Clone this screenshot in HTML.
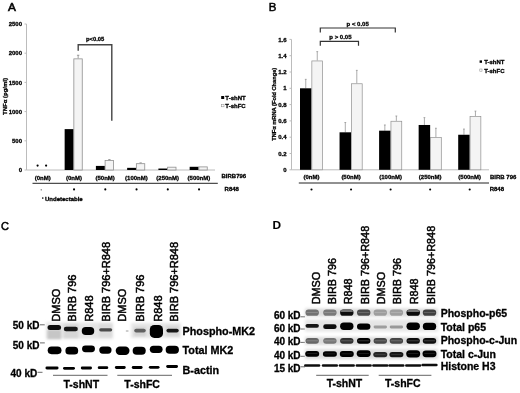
<!DOCTYPE html>
<html><head><meta charset="utf-8"><style>
html,body{margin:0;padding:0;background:#fff;}
body{width:520px;height:393px;overflow:hidden;}
svg{display:block;font-family:"Liberation Sans", sans-serif;transform:translateZ(0);}
</style></head><body>
<svg width="520" height="393" viewBox="0 0 520 393">
<defs><filter id="b5" x="-50%" y="-50%" width="200%" height="200%"><feGaussianBlur stdDeviation="0.5"/></filter><filter id="b6" x="-50%" y="-50%" width="200%" height="200%"><feGaussianBlur stdDeviation="0.6"/></filter><filter id="b7" x="-50%" y="-50%" width="200%" height="200%"><feGaussianBlur stdDeviation="0.7"/></filter><filter id="b8" x="-50%" y="-50%" width="200%" height="200%"><feGaussianBlur stdDeviation="0.8"/></filter><filter id="b9" x="-50%" y="-50%" width="200%" height="200%"><feGaussianBlur stdDeviation="0.9"/></filter><filter id="b10" x="-50%" y="-50%" width="200%" height="200%"><feGaussianBlur stdDeviation="1.0"/></filter><filter id="b15" x="-50%" y="-50%" width="200%" height="200%"><feGaussianBlur stdDeviation="1.5"/></filter><filter id="b20" x="-50%" y="-50%" width="200%" height="200%"><feGaussianBlur stdDeviation="2.0"/></filter></defs>
<g id="A">
<text x="7.9" y="10.7" font-size="11.8" font-weight="normal" text-anchor="start" stroke="#000" stroke-width="0.6">A</text>
<line x1="26.5" y1="24" x2="26.5" y2="170.0" stroke="#bcbcbc" stroke-width="1"/>
<line x1="24.5" y1="170.0" x2="26.5" y2="170.0" stroke="#bcbcbc" stroke-width="1"/>
<text x="22" y="172.1" font-size="6" font-weight="bold" text-anchor="end"  stroke="#000" stroke-width="0.3">0</text>
<line x1="24.5" y1="140.8" x2="26.5" y2="140.8" stroke="#bcbcbc" stroke-width="1"/>
<text x="22" y="142.9" font-size="6" font-weight="bold" text-anchor="end"  stroke="#000" stroke-width="0.3">500</text>
<line x1="24.5" y1="111.6" x2="26.5" y2="111.6" stroke="#bcbcbc" stroke-width="1"/>
<text x="22" y="113.69999999999999" font-size="6" font-weight="bold" text-anchor="end"  stroke="#000" stroke-width="0.3">1000</text>
<line x1="24.5" y1="82.4" x2="26.5" y2="82.4" stroke="#bcbcbc" stroke-width="1"/>
<text x="22" y="84.5" font-size="6" font-weight="bold" text-anchor="end"  stroke="#000" stroke-width="0.3">1500</text>
<line x1="24.5" y1="53.2" x2="26.5" y2="53.2" stroke="#bcbcbc" stroke-width="1"/>
<text x="22" y="55.300000000000004" font-size="6" font-weight="bold" text-anchor="end"  stroke="#000" stroke-width="0.3">2000</text>
<line x1="24.5" y1="24.0" x2="26.5" y2="24.0" stroke="#bcbcbc" stroke-width="1"/>
<text x="22" y="26.1" font-size="6" font-weight="bold" text-anchor="end"  stroke="#000" stroke-width="0.3">2500</text>
<line x1="26.5" y1="170.0" x2="215" y2="170.0" stroke="#bcbcbc" stroke-width="1"/>
<text transform="translate(7.2,96.5) rotate(-90)" font-size="6" font-weight="bold" text-anchor="middle" stroke="#000" stroke-width="0.3">TNFα (pg/ml)</text>
<text x="42.699999999999996" y="179.6" font-size="6" font-weight="bold" text-anchor="middle"  stroke="#000" stroke-width="0.3">(0nM)</text>
<circle cx="41.199999999999996" cy="189.8" r="0.6" fill="#333"/>
<rect x="64.65" y="129.12" width="9.0" height="40.879999999999995" fill="#000"/>
<line x1="78.15" y1="55.244" x2="78.15" y2="58.456" stroke="#777" stroke-width="0.7"/>
<line x1="76.95" y1="55.244" x2="79.35000000000001" y2="55.244" stroke="#777" stroke-width="0.7"/>
<rect x="73.85000000000001" y="58.856" width="8.4" height="111.14399999999999" fill="#f4f4f4" stroke="#909090" stroke-width="0.8"/>
<text x="73.95" y="179.6" font-size="6" font-weight="bold" text-anchor="middle"  stroke="#000" stroke-width="0.3">(0nM)</text>
<circle cx="74.05" cy="189.4" r="1.05" fill="#000"/>
<rect x="95.9" y="165.912" width="9.0" height="4.088" fill="#000"/>
<line x1="109.4" y1="159.6048" x2="109.4" y2="160.072" stroke="#777" stroke-width="0.7"/>
<line x1="108.2" y1="159.6048" x2="110.60000000000001" y2="159.6048" stroke="#777" stroke-width="0.7"/>
<rect x="105.10000000000001" y="160.472" width="8.4" height="9.528" fill="#f4f4f4" stroke="#909090" stroke-width="0.8"/>
<text x="105.2" y="179.6" font-size="6" font-weight="bold" text-anchor="middle"  stroke="#000" stroke-width="0.3">(50nM)</text>
<circle cx="105.3" cy="189.4" r="1.05" fill="#000"/>
<rect x="127.15" y="167.8392" width="9.0" height="2.1608" fill="#000"/>
<line x1="140.65" y1="162.8752" x2="140.65" y2="163.284" stroke="#777" stroke-width="0.7"/>
<line x1="139.45000000000002" y1="162.8752" x2="141.85" y2="162.8752" stroke="#777" stroke-width="0.7"/>
<rect x="136.35" y="163.684" width="8.4" height="6.316" fill="#f4f4f4" stroke="#909090" stroke-width="0.8"/>
<text x="136.45000000000002" y="179.6" font-size="6" font-weight="bold" text-anchor="middle"  stroke="#000" stroke-width="0.3">(100nM)</text>
<circle cx="136.55" cy="189.4" r="1.05" fill="#000"/>
<rect x="158.4" y="168.54" width="9.0" height="1.46" fill="#000"/>
<rect x="167.6" y="167.18800000000002" width="8.4" height="2.812" fill="#f4f4f4" stroke="#909090" stroke-width="0.8"/>
<text x="167.70000000000002" y="179.6" font-size="6" font-weight="bold" text-anchor="middle"  stroke="#000" stroke-width="0.3">(250nM)</text>
<circle cx="167.8" cy="189.4" r="1.05" fill="#000"/>
<rect x="189.65" y="166.788" width="9.0" height="3.2119999999999997" fill="#000"/>
<rect x="198.85" y="166.89600000000002" width="8.4" height="3.104" fill="#f4f4f4" stroke="#909090" stroke-width="0.8"/>
<text x="198.95000000000002" y="179.6" font-size="6" font-weight="bold" text-anchor="middle"  stroke="#000" stroke-width="0.3">(500nM)</text>
<circle cx="199.05" cy="189.4" r="1.05" fill="#000"/>
<circle cx="37.6" cy="165.6" r="1.1" fill="#000"/>
<circle cx="46.1" cy="165.6" r="1.1" fill="#000"/>
<line x1="32.5" y1="183.3" x2="217.8" y2="183.3" stroke="#222" stroke-width="1"/>
<text x="221.5" y="178.2" font-size="6" font-weight="bold" text-anchor="start"  stroke="#000" stroke-width="0.3">BIRB796</text>
<text x="224.6" y="191.2" font-size="6" font-weight="bold" text-anchor="start"  stroke="#000" stroke-width="0.3">R848</text>
<circle cx="42.8" cy="198.1" r="0.8" fill="#000"/>
<text x="45" y="200.6" font-size="6" font-weight="bold" text-anchor="start"  stroke="#000" stroke-width="0.3">Undetectable</text>
<path d="M78.2 50.8 V44.8 H111.8 V120.7" fill="none" stroke="#444" stroke-width="1.4"/>
<text x="95.2" y="40.7" font-size="5.8" font-weight="bold" text-anchor="middle"  stroke="#000" stroke-width="0.3">p&lt;0.05</text>
<rect x="221.2" y="96" width="3" height="3" fill="#000"/>
<rect x="221.5" y="104.3" width="2.5" height="2.5" fill="#fff" stroke="#888" stroke-width="0.5"/>
<text x="225.3" y="99.6" font-size="6" font-weight="bold" text-anchor="start"  stroke="#000" stroke-width="0.3">T-shNT</text>
<text x="225.3" y="108.3" font-size="6" font-weight="bold" text-anchor="start"  stroke="#000" stroke-width="0.3">T-shFC</text>
</g>
<g id="B">
<text x="268.7" y="11" font-size="11.5" font-weight="normal" text-anchor="start" stroke="#000" stroke-width="0.5">B</text>
<line x1="291.5" y1="39.400000000000006" x2="291.5" y2="169.8" stroke="#bcbcbc" stroke-width="1"/>
<line x1="289.5" y1="169.8" x2="291.5" y2="169.8" stroke="#bcbcbc" stroke-width="1"/>
<text x="286.5" y="171.9" font-size="6" font-weight="bold" text-anchor="end"  stroke="#000" stroke-width="0.3">0</text>
<line x1="289.5" y1="153.5" x2="291.5" y2="153.5" stroke="#bcbcbc" stroke-width="1"/>
<text x="286.5" y="155.6" font-size="6" font-weight="bold" text-anchor="end"  stroke="#000" stroke-width="0.3">0.2</text>
<line x1="289.5" y1="137.20000000000002" x2="291.5" y2="137.20000000000002" stroke="#bcbcbc" stroke-width="1"/>
<text x="286.5" y="139.3" font-size="6" font-weight="bold" text-anchor="end"  stroke="#000" stroke-width="0.3">0.4</text>
<line x1="289.5" y1="120.9" x2="291.5" y2="120.9" stroke="#bcbcbc" stroke-width="1"/>
<text x="286.5" y="123.0" font-size="6" font-weight="bold" text-anchor="end"  stroke="#000" stroke-width="0.3">0.6</text>
<line x1="289.5" y1="104.60000000000001" x2="291.5" y2="104.60000000000001" stroke="#bcbcbc" stroke-width="1"/>
<text x="286.5" y="106.7" font-size="6" font-weight="bold" text-anchor="end"  stroke="#000" stroke-width="0.3">0.8</text>
<line x1="289.5" y1="88.30000000000001" x2="291.5" y2="88.30000000000001" stroke="#bcbcbc" stroke-width="1"/>
<text x="286.5" y="90.4" font-size="6" font-weight="bold" text-anchor="end"  stroke="#000" stroke-width="0.3">1</text>
<line x1="289.5" y1="72.0" x2="291.5" y2="72.0" stroke="#bcbcbc" stroke-width="1"/>
<text x="286.5" y="74.1" font-size="6" font-weight="bold" text-anchor="end"  stroke="#000" stroke-width="0.3">1.2</text>
<line x1="289.5" y1="55.7" x2="291.5" y2="55.7" stroke="#bcbcbc" stroke-width="1"/>
<text x="286.5" y="57.800000000000004" font-size="6" font-weight="bold" text-anchor="end"  stroke="#000" stroke-width="0.3">1.4</text>
<line x1="289.5" y1="39.400000000000006" x2="291.5" y2="39.400000000000006" stroke="#bcbcbc" stroke-width="1"/>
<text x="286.5" y="41.50000000000001" font-size="6" font-weight="bold" text-anchor="end"  stroke="#000" stroke-width="0.3">1.6</text>
<line x1="291.5" y1="169.8" x2="489" y2="169.8" stroke="#bcbcbc" stroke-width="1"/>
<text transform="translate(276.1,104.3) rotate(-90)" font-size="5.7" font-weight="bold" text-anchor="middle" stroke="#000" stroke-width="0.3">TNFα mRNA (Fold Change)</text>
<line x1="305.75" y1="79.33500000000001" x2="305.75" y2="88.30000000000001" stroke="#888" stroke-width="0.7"/>
<line x1="304.85" y1="79.33500000000001" x2="306.65" y2="79.33500000000001" stroke="#888" stroke-width="0.7"/>
<rect x="300.0" y="88.30000000000001" width="11.5" height="81.5" fill="#000"/>
<line x1="317.25" y1="51.625000000000014" x2="317.25" y2="60.59" stroke="#888" stroke-width="0.7"/>
<line x1="316.35" y1="51.625000000000014" x2="318.15" y2="51.625000000000014" stroke="#888" stroke-width="0.7"/>
<rect x="311.85" y="60.940000000000005" width="10.8" height="108.86000000000001" fill="#f4f4f4" stroke="#909090" stroke-width="0.7"/>
<text x="311.5" y="179.2" font-size="6" font-weight="bold" text-anchor="middle"  stroke="#000" stroke-width="0.3">(0nM)</text>
<circle cx="311.5" cy="189.5" r="1.05" fill="#000"/>
<line x1="345.3" y1="122.53000000000002" x2="345.3" y2="132.31" stroke="#888" stroke-width="0.7"/>
<line x1="344.40000000000003" y1="122.53000000000002" x2="346.2" y2="122.53000000000002" stroke="#888" stroke-width="0.7"/>
<rect x="339.55" y="132.31" width="11.5" height="37.49" fill="#000"/>
<line x1="356.8" y1="70.37000000000002" x2="356.8" y2="83.41000000000001" stroke="#888" stroke-width="0.7"/>
<line x1="355.90000000000003" y1="70.37000000000002" x2="357.7" y2="70.37000000000002" stroke="#888" stroke-width="0.7"/>
<rect x="351.40000000000003" y="83.76" width="10.8" height="86.04" fill="#f4f4f4" stroke="#909090" stroke-width="0.7"/>
<text x="351.05" y="179.2" font-size="6" font-weight="bold" text-anchor="middle"  stroke="#000" stroke-width="0.3">(50nM)</text>
<circle cx="351.05" cy="189.5" r="1.05" fill="#000"/>
<line x1="384.85" y1="124.97500000000001" x2="384.85" y2="130.68" stroke="#888" stroke-width="0.7"/>
<line x1="383.95000000000005" y1="124.97500000000001" x2="385.75" y2="124.97500000000001" stroke="#888" stroke-width="0.7"/>
<rect x="379.1" y="130.68" width="11.5" height="39.12" fill="#000"/>
<line x1="396.35" y1="116.01000000000002" x2="396.35" y2="120.9" stroke="#888" stroke-width="0.7"/>
<line x1="395.45000000000005" y1="116.01000000000002" x2="397.25" y2="116.01000000000002" stroke="#888" stroke-width="0.7"/>
<rect x="390.95000000000005" y="121.25" width="10.8" height="48.55" fill="#f4f4f4" stroke="#909090" stroke-width="0.7"/>
<text x="390.6" y="179.2" font-size="6" font-weight="bold" text-anchor="middle"  stroke="#000" stroke-width="0.3">(100nM)</text>
<circle cx="390.6" cy="189.5" r="1.05" fill="#000"/>
<line x1="424.4" y1="117.64000000000001" x2="424.4" y2="124.97500000000001" stroke="#888" stroke-width="0.7"/>
<line x1="423.5" y1="117.64000000000001" x2="425.29999999999995" y2="117.64000000000001" stroke="#888" stroke-width="0.7"/>
<rect x="418.65" y="124.97500000000001" width="11.5" height="44.825" fill="#000"/>
<line x1="435.9" y1="128.235" x2="435.9" y2="137.20000000000002" stroke="#888" stroke-width="0.7"/>
<line x1="435.0" y1="128.235" x2="436.79999999999995" y2="128.235" stroke="#888" stroke-width="0.7"/>
<rect x="430.5" y="137.55" width="10.8" height="32.25" fill="#f4f4f4" stroke="#909090" stroke-width="0.7"/>
<text x="430.15" y="179.2" font-size="6" font-weight="bold" text-anchor="middle"  stroke="#000" stroke-width="0.3">(250nM)</text>
<circle cx="430.15" cy="189.5" r="1.05" fill="#000"/>
<line x1="463.95" y1="129.05" x2="463.95" y2="134.755" stroke="#888" stroke-width="0.7"/>
<line x1="463.05" y1="129.05" x2="464.84999999999997" y2="129.05" stroke="#888" stroke-width="0.7"/>
<rect x="458.2" y="134.755" width="11.5" height="35.045" fill="#000"/>
<line x1="475.45" y1="111.12" x2="475.45" y2="116.01000000000002" stroke="#888" stroke-width="0.7"/>
<line x1="474.55" y1="111.12" x2="476.34999999999997" y2="111.12" stroke="#888" stroke-width="0.7"/>
<rect x="470.05" y="116.36000000000001" width="10.8" height="53.44" fill="#f4f4f4" stroke="#909090" stroke-width="0.7"/>
<text x="469.7" y="179.2" font-size="6" font-weight="bold" text-anchor="middle"  stroke="#000" stroke-width="0.3">(500nM)</text>
<circle cx="469.7" cy="189.5" r="1.05" fill="#000"/>
<line x1="298.8" y1="183" x2="489" y2="183" stroke="#222" stroke-width="1"/>
<text x="490" y="179" font-size="6" font-weight="bold" text-anchor="start"  stroke="#000" stroke-width="0.3">BIRB 796</text>
<text x="489.7" y="191.2" font-size="6" font-weight="bold" text-anchor="start"  stroke="#000" stroke-width="0.3">R848</text>
<path d="M320.3 32.6 V28 H395.3 V32.6" fill="none" stroke="#333" stroke-width="1.2"/>
<path d="M320.3 45.8 V41.3 H358.5 V45.8" fill="none" stroke="#333" stroke-width="1.2"/>
<text x="357.7" y="26.3" font-size="6" font-weight="bold" text-anchor="middle"  stroke="#000" stroke-width="0.3">p &lt; 0.05</text>
<text x="340.4" y="38.5" font-size="6" font-weight="bold" text-anchor="middle"  stroke="#000" stroke-width="0.3">p &gt; 0.05</text>
<rect x="479.6" y="60.4" width="2.4" height="2.4" fill="#000"/>
<rect x="479.8" y="69" width="2.2" height="2.2" fill="#fff" stroke="#888" stroke-width="0.5"/>
<text x="484.2" y="64" font-size="6" font-weight="bold" text-anchor="start"  stroke="#000" stroke-width="0.3">T-shNT</text>
<text x="484.2" y="72.6" font-size="6" font-weight="bold" text-anchor="start"  stroke="#000" stroke-width="0.3">T-shFC</text>
</g>
<g id="C">
<text x="1.0" y="230" font-size="11" font-weight="normal" text-anchor="start" stroke="#000" stroke-width="0.5">C</text>
<text transform="translate(60.1,321.7) rotate(-90)" font-size="11" font-weight="normal" stroke="#000" stroke-width="0.5">DMSO</text>
<text transform="translate(75.9,321.7) rotate(-90)" font-size="11" font-weight="normal" stroke="#000" stroke-width="0.5">BIRB 796</text>
<text transform="translate(92.9,321.7) rotate(-90)" font-size="11" font-weight="normal" stroke="#000" stroke-width="0.5">R848</text>
<text transform="translate(109.9,321.7) rotate(-90)" font-size="11" font-weight="normal" stroke="#000" stroke-width="0.5">BIRB 796+R848</text>
<text transform="translate(126.10000000000001,321.7) rotate(-90)" font-size="11" font-weight="normal" stroke="#000" stroke-width="0.5">DMSO</text>
<text transform="translate(143.5,321.7) rotate(-90)" font-size="11" font-weight="normal" stroke="#000" stroke-width="0.5">BIRB 796</text>
<text transform="translate(161.5,321.7) rotate(-90)" font-size="11" font-weight="normal" stroke="#000" stroke-width="0.5">R848</text>
<text transform="translate(178.3,321.7) rotate(-90)" font-size="11" font-weight="normal" stroke="#000" stroke-width="0.5">BIRB 796+R848</text>
<text x="39.5" y="329.1" font-size="10" font-weight="bold" text-anchor="end"  stroke="#000" stroke-width="0.3">50 kD</text>
<text x="39.5" y="349.3" font-size="10" font-weight="bold" text-anchor="end"  stroke="#000" stroke-width="0.3">50 kD</text>
<text x="37.2" y="376.8" font-size="10" font-weight="bold" text-anchor="end"  stroke="#000" stroke-width="0.3">40 kD</text>
<line x1="40" y1="324.8" x2="44.8" y2="324.8" stroke="#444" stroke-width="0.8"/>
<line x1="40" y1="342.9" x2="44.8" y2="342.9" stroke="#444" stroke-width="0.8"/>
<line x1="37.5" y1="372.3" x2="42.5" y2="372.3" stroke="#444" stroke-width="0.8"/>
<rect x="46" y="322.5" width="67" height="16.5" fill="rgb(229,229,229)" opacity="1" filter="url(#b15)"/>
<rect x="131" y="323" width="50" height="15" fill="rgb(229,229,229)" opacity="1" filter="url(#b15)"/>
<rect x="47.5" y="330" width="13.5" height="9" fill="rgb(198,198,198)" opacity="1" filter="url(#b10)"/>
<rect x="64" y="324" width="14" height="14" fill="rgb(214,214,214)" opacity="1" filter="url(#b10)"/>
<rect x="99" y="324" width="13" height="13" fill="rgb(219,219,219)" opacity="1" filter="url(#b10)"/>
<rect x="134" y="327" width="12" height="9" fill="rgb(211,211,211)" opacity="1" filter="url(#b10)"/>
<rect x="166" y="326" width="13" height="10" fill="rgb(214,214,214)" opacity="1" filter="url(#b10)"/>
<rect x="47.55" y="325.00" width="13.50" height="5.00" rx="2.50" fill="rgb(15,15,15)" opacity="1" filter="url(#b6)"/>
<rect x="63.80" y="326.75" width="14.00" height="4.50" rx="2.25" fill="rgb(20,20,20)" opacity="1" filter="url(#b6)"/>
<rect x="81.75" y="327.00" width="12.50" height="8.00" rx="4.00" fill="rgb(5,5,5)" opacity="1" filter="url(#b6)"/>
<rect x="99.20" y="328.20" width="13.00" height="3.20" rx="1.60" fill="rgb(76,76,76)" opacity="1" filter="url(#b6)"/>
<rect x="125.70" y="330.00" width="3.00" height="2.00" rx="1.00" fill="rgb(204,204,204)" opacity="1" filter="url(#b6)"/>
<rect x="134.25" y="328.70" width="11.50" height="3.80" rx="1.90" fill="rgb(96,96,96)" opacity="1" filter="url(#b6)"/>
<rect x="149.80" y="324.90" width="13.20" height="13.00" rx="4.50" fill="rgb(0,0,0)" opacity="1" filter="url(#b6)"/>
<rect x="166.45" y="328.70" width="12.30" height="3.80" rx="1.90" fill="rgb(25,25,25)" opacity="1" filter="url(#b6)"/>
<rect x="47.70" y="346.45" width="13.80" height="7.70" rx="3.85" fill="rgb(0,0,0)" opacity="1" filter="url(#b6)"/>
<rect x="65.40" y="346.85" width="12.80" height="7.70" rx="3.85" fill="rgb(0,0,0)" opacity="1" filter="url(#b6)"/>
<rect x="82.05" y="345.40" width="12.90" height="6.80" rx="3.40" fill="rgb(0,0,0)" opacity="1" filter="url(#b6)"/>
<rect x="99.25" y="346.50" width="12.30" height="7.20" rx="3.60" fill="rgb(0,0,0)" opacity="1" filter="url(#b6)"/>
<rect x="115.70" y="346.50" width="13.80" height="8.40" rx="4.20" fill="rgb(0,0,0)" opacity="1" filter="url(#b6)"/>
<rect x="132.65" y="346.70" width="13.10" height="8.00" rx="4.00" fill="rgb(0,0,0)" opacity="1" filter="url(#b6)"/>
<rect x="149.80" y="345.65" width="12.80" height="7.30" rx="3.65" fill="rgb(0,0,0)" opacity="1" filter="url(#b6)"/>
<rect x="165.65" y="345.70" width="13.30" height="8.00" rx="4.00" fill="rgb(0,0,0)" opacity="1" filter="url(#b6)"/>
<rect x="45.45" y="366.60" width="13.10" height="2.80" rx="1.40" fill="rgb(0,0,0)" opacity="1" filter="url(#b5)"/>
<rect x="63.00" y="366.90" width="12.00" height="2.80" rx="1.40" fill="rgb(0,0,0)" opacity="1" filter="url(#b5)"/>
<rect x="80.80" y="366.60" width="11.20" height="2.80" rx="1.40" fill="rgb(0,0,0)" opacity="1" filter="url(#b5)"/>
<rect x="97.75" y="366.30" width="10.50" height="2.80" rx="1.40" fill="rgb(0,0,0)" opacity="1" filter="url(#b5)"/>
<rect x="114.90" y="366.10" width="10.80" height="2.80" rx="1.40" fill="rgb(0,0,0)" opacity="1" filter="url(#b5)"/>
<rect x="131.80" y="366.10" width="10.80" height="2.80" rx="1.40" fill="rgb(0,0,0)" opacity="1" filter="url(#b5)"/>
<rect x="148.85" y="365.90" width="10.70" height="2.80" rx="1.40" fill="rgb(0,0,0)" opacity="1" filter="url(#b5)"/>
<rect x="166.20" y="365.10" width="11.80" height="2.80" rx="1.40" fill="rgb(0,0,0)" opacity="1" filter="url(#b5)"/>
<line x1="53" y1="375.3" x2="107.5" y2="375.3" stroke="#555" stroke-width="0.9"/>
<line x1="117.3" y1="375.3" x2="172" y2="375.3" stroke="#555" stroke-width="0.9"/>
<text x="81.3" y="387.8" font-size="10.5" font-weight="bold" text-anchor="middle"  stroke="#000" stroke-width="0.3">T-shNT</text>
<text x="142.1" y="387.8" font-size="10.5" font-weight="bold" text-anchor="middle"  stroke="#000" stroke-width="0.3">T-shFC</text>
<text x="182.5" y="335.2" font-size="10.8" font-weight="bold" text-anchor="start"  stroke="#000" stroke-width="0.3">Phospho-MK2</text>
<text x="182.5" y="354" font-size="10.8" font-weight="bold" text-anchor="start"  stroke="#000" stroke-width="0.3">Total MK2</text>
<text x="182.5" y="373.6" font-size="10.8" font-weight="bold" text-anchor="start"  stroke="#000" stroke-width="0.3">B-actin</text>
</g>
<g id="D">
<text x="272.6" y="228.9" font-size="11.8" font-weight="bold" text-anchor="start" stroke="#000" stroke-width="0.1">D</text>
<text transform="translate(319.7,304.2) rotate(-90)" font-size="10.8" font-weight="normal" stroke="#000" stroke-width="0.5">DMSO</text>
<text transform="translate(336.40000000000003,304.2) rotate(-90)" font-size="10.8" font-weight="normal" stroke="#000" stroke-width="0.5">BIRB 796</text>
<text transform="translate(352.3,304.2) rotate(-90)" font-size="10.8" font-weight="normal" stroke="#000" stroke-width="0.5">R848</text>
<text transform="translate(368.7,304.2) rotate(-90)" font-size="10.8" font-weight="normal" stroke="#000" stroke-width="0.5">BIRB 796+R848</text>
<text transform="translate(384.6,304.2) rotate(-90)" font-size="10.8" font-weight="normal" stroke="#000" stroke-width="0.5">DMSO</text>
<text transform="translate(401.0,304.2) rotate(-90)" font-size="10.8" font-weight="normal" stroke="#000" stroke-width="0.5">BIRB 796</text>
<text transform="translate(417.7,304.2) rotate(-90)" font-size="10.8" font-weight="normal" stroke="#000" stroke-width="0.5">R848</text>
<text transform="translate(435.0,304.2) rotate(-90)" font-size="10.8" font-weight="normal" stroke="#000" stroke-width="0.5">BIRB 796+R848</text>
<text x="300.6" y="319.1" font-size="10" font-weight="bold" text-anchor="end"  stroke="#000" stroke-width="0.3">60 kD</text>
<text x="300.6" y="331.6" font-size="10" font-weight="bold" text-anchor="end"  stroke="#000" stroke-width="0.3">60 kD</text>
<text x="300.6" y="345.35" font-size="10" font-weight="bold" text-anchor="end"  stroke="#000" stroke-width="0.3">40 kD</text>
<text x="300.6" y="359.1" font-size="10" font-weight="bold" text-anchor="end"  stroke="#000" stroke-width="0.3">40 kD</text>
<text x="300.6" y="371.6" font-size="10" font-weight="bold" text-anchor="end"  stroke="#000" stroke-width="0.3">15 kD</text>
<line x1="300.3" y1="316.8" x2="305" y2="316.8" stroke="#444" stroke-width="0.8"/>
<line x1="300.3" y1="329" x2="305" y2="329" stroke="#444" stroke-width="0.8"/>
<line x1="300.3" y1="342.4" x2="305" y2="342.4" stroke="#444" stroke-width="0.8"/>
<line x1="300.3" y1="356.3" x2="305" y2="356.3" stroke="#444" stroke-width="0.8"/>
<line x1="300.3" y1="366.8" x2="305" y2="366.8" stroke="#444" stroke-width="0.8"/>
<rect x="305" y="308.5" width="133" height="8" fill="rgb(219,219,219)" opacity="1" filter="url(#b15)"/>
<rect x="305" y="319.5" width="133" height="12" fill="rgb(229,229,229)" opacity="1" filter="url(#b15)"/>
<rect x="305" y="337" width="133" height="8" fill="rgb(219,219,219)" opacity="1" filter="url(#b15)"/>
<rect x="305" y="349" width="133" height="10" fill="rgb(219,219,219)" opacity="1" filter="url(#b15)"/>
<rect x="305.50" y="309.60" width="13.40" height="6.20" rx="3.10" fill="rgb(114,114,114)" opacity="1" filter="url(#b7)"/>
<rect x="306.50" y="312.3" width="11.40" height="0.7" fill="#fff" opacity="0.25"/>
<rect x="323.20" y="309.60" width="13.40" height="6.20" rx="3.10" fill="rgb(122,122,122)" opacity="1" filter="url(#b7)"/>
<rect x="324.20" y="312.3" width="11.40" height="0.7" fill="#fff" opacity="0.25"/>
<rect x="340.10" y="309.60" width="13.40" height="6.20" rx="3.10" fill="rgb(12,12,12)" opacity="1" filter="url(#b7)"/>
<rect x="340.60" y="309.90" width="12.40" height="2.20" rx="1.10" fill="rgb(114,114,114)" opacity="1" filter="url(#b7)"/>
<rect x="357.00" y="309.60" width="13.40" height="6.20" rx="3.10" fill="rgb(76,76,76)" opacity="1" filter="url(#b7)"/>
<rect x="358.00" y="312.3" width="11.40" height="0.7" fill="#fff" opacity="0.25"/>
<rect x="373.60" y="309.60" width="13.40" height="6.20" rx="3.10" fill="rgb(158,158,158)" opacity="1" filter="url(#b7)"/>
<rect x="374.60" y="312.3" width="11.40" height="0.7" fill="#fff" opacity="0.25"/>
<rect x="389.70" y="309.60" width="13.40" height="6.20" rx="3.10" fill="rgb(158,158,158)" opacity="1" filter="url(#b7)"/>
<rect x="390.70" y="312.3" width="11.40" height="0.7" fill="#fff" opacity="0.25"/>
<rect x="406.50" y="309.60" width="13.40" height="6.20" rx="3.10" fill="rgb(7,7,7)" opacity="1" filter="url(#b7)"/>
<rect x="407.00" y="309.90" width="12.40" height="2.20" rx="1.10" fill="rgb(114,114,114)" opacity="1" filter="url(#b7)"/>
<rect x="422.80" y="309.60" width="13.40" height="6.20" rx="3.10" fill="rgb(63,63,63)" opacity="1" filter="url(#b7)"/>
<rect x="423.80" y="312.3" width="11.40" height="0.7" fill="#fff" opacity="0.25"/>
<rect x="305.50" y="323.90" width="13.40" height="3.80" rx="1.90" fill="rgb(25,25,25)" opacity="1" filter="url(#b7)"/>
<rect x="323.20" y="324.30" width="13.40" height="4.80" rx="2.40" fill="rgb(12,12,12)" opacity="1" filter="url(#b7)"/>
<rect x="340.10" y="322.50" width="13.40" height="7.40" rx="3.70" fill="rgb(0,0,0)" opacity="1" filter="url(#b7)"/>
<rect x="357.00" y="323.40" width="13.40" height="6.40" rx="3.20" fill="rgb(0,0,0)" opacity="1" filter="url(#b7)"/>
<rect x="373.60" y="325.60" width="13.40" height="2.80" rx="1.40" fill="rgb(158,158,158)" opacity="1" filter="url(#b7)"/>
<rect x="389.70" y="325.60" width="13.40" height="2.80" rx="1.40" fill="rgb(153,153,153)" opacity="1" filter="url(#b7)"/>
<rect x="406.50" y="322.50" width="13.40" height="7.40" rx="3.70" fill="rgb(0,0,0)" opacity="1" filter="url(#b7)"/>
<rect x="422.80" y="322.80" width="13.40" height="7.20" rx="3.60" fill="rgb(0,0,0)" opacity="1" filter="url(#b7)"/>
<rect x="305.50" y="337.90" width="13.40" height="5.80" rx="2.90" fill="rgb(102,102,102)" opacity="1" filter="url(#b7)"/>
<rect x="306.50" y="340.5" width="11.40" height="0.7" fill="#fff" opacity="0.3"/>
<rect x="323.20" y="337.90" width="13.40" height="5.80" rx="2.90" fill="rgb(119,119,119)" opacity="1" filter="url(#b7)"/>
<rect x="324.20" y="340.5" width="11.40" height="0.7" fill="#fff" opacity="0.3"/>
<rect x="340.10" y="337.90" width="13.40" height="5.80" rx="2.90" fill="rgb(51,51,51)" opacity="1" filter="url(#b7)"/>
<rect x="341.10" y="340.5" width="11.40" height="0.7" fill="#fff" opacity="0.3"/>
<rect x="357.00" y="337.90" width="13.40" height="5.80" rx="2.90" fill="rgb(5,5,5)" opacity="1" filter="url(#b7)"/>
<rect x="358.00" y="340.5" width="11.40" height="0.7" fill="#fff" opacity="0.3"/>
<rect x="373.60" y="337.90" width="13.40" height="5.80" rx="2.90" fill="rgb(71,71,71)" opacity="1" filter="url(#b7)"/>
<rect x="374.60" y="340.5" width="11.40" height="0.7" fill="#fff" opacity="0.3"/>
<rect x="389.70" y="337.90" width="13.40" height="5.80" rx="2.90" fill="rgb(71,71,71)" opacity="1" filter="url(#b7)"/>
<rect x="390.70" y="340.5" width="11.40" height="0.7" fill="#fff" opacity="0.3"/>
<rect x="406.50" y="337.90" width="13.40" height="5.80" rx="2.90" fill="rgb(15,15,15)" opacity="1" filter="url(#b7)"/>
<rect x="407.50" y="340.5" width="11.40" height="0.7" fill="#fff" opacity="0.3"/>
<rect x="422.80" y="337.90" width="13.40" height="5.80" rx="2.90" fill="rgb(15,15,15)" opacity="1" filter="url(#b7)"/>
<rect x="423.80" y="340.5" width="11.40" height="0.7" fill="#fff" opacity="0.3"/>
<rect x="305.20" y="350.90" width="14.00" height="5.80" rx="2.90" fill="rgb(0,0,0)" opacity="1" filter="url(#b7)"/>
<rect x="307.00" y="353.40" width="10.40" height="0.6" fill="#fff" opacity="0.18"/>
<rect x="322.90" y="351.25" width="14.00" height="5.50" rx="2.75" fill="rgb(5,5,5)" opacity="1" filter="url(#b7)"/>
<rect x="324.70" y="353.60" width="10.40" height="0.6" fill="#fff" opacity="0.18"/>
<rect x="339.80" y="351.10" width="14.00" height="5.80" rx="2.90" fill="rgb(0,0,0)" opacity="1" filter="url(#b7)"/>
<rect x="341.60" y="353.60" width="10.40" height="0.6" fill="#fff" opacity="0.18"/>
<rect x="356.70" y="350.20" width="14.00" height="6.80" rx="3.40" fill="rgb(0,0,0)" opacity="1" filter="url(#b7)"/>
<rect x="358.50" y="353.20" width="10.40" height="0.6" fill="#fff" opacity="0.18"/>
<rect x="373.30" y="351.90" width="14.00" height="5.40" rx="2.70" fill="rgb(38,38,38)" opacity="1" filter="url(#b7)"/>
<rect x="375.10" y="354.20" width="10.40" height="0.6" fill="#fff" opacity="0.18"/>
<rect x="389.40" y="351.90" width="14.00" height="5.40" rx="2.70" fill="rgb(25,25,25)" opacity="1" filter="url(#b7)"/>
<rect x="391.20" y="354.20" width="10.40" height="0.6" fill="#fff" opacity="0.18"/>
<rect x="406.20" y="350.20" width="14.00" height="7.20" rx="3.60" fill="rgb(0,0,0)" opacity="1" filter="url(#b7)"/>
<rect x="408.00" y="353.40" width="10.40" height="0.6" fill="#fff" opacity="0.18"/>
<rect x="422.50" y="350.40" width="14.00" height="6.80" rx="3.40" fill="rgb(0,0,0)" opacity="1" filter="url(#b7)"/>
<rect x="424.30" y="353.40" width="10.40" height="0.6" fill="#fff" opacity="0.18"/>
<rect x="304.10" y="364.30" width="16.20" height="2.40" rx="1.20" fill="rgb(12,12,12)" opacity="1" filter="url(#b5)"/>
<rect x="321.80" y="364.30" width="16.20" height="2.40" rx="1.20" fill="rgb(12,12,12)" opacity="1" filter="url(#b5)"/>
<rect x="338.70" y="364.30" width="16.20" height="2.40" rx="1.20" fill="rgb(12,12,12)" opacity="1" filter="url(#b5)"/>
<rect x="355.60" y="364.30" width="16.20" height="2.40" rx="1.20" fill="rgb(12,12,12)" opacity="1" filter="url(#b5)"/>
<rect x="372.20" y="364.30" width="16.20" height="2.40" rx="1.20" fill="rgb(12,12,12)" opacity="1" filter="url(#b5)"/>
<rect x="388.30" y="364.30" width="16.20" height="2.40" rx="1.20" fill="rgb(12,12,12)" opacity="1" filter="url(#b5)"/>
<rect x="405.10" y="364.30" width="16.20" height="2.40" rx="1.20" fill="rgb(12,12,12)" opacity="1" filter="url(#b5)"/>
<rect x="421.40" y="363.80" width="16.20" height="2.40" rx="1.20" fill="rgb(12,12,12)" opacity="1" filter="url(#b5)"/>
<line x1="316.2" y1="375.3" x2="368.7" y2="375.3" stroke="#555" stroke-width="0.9"/>
<line x1="378.7" y1="375.3" x2="431.4" y2="375.3" stroke="#555" stroke-width="0.9"/>
<text x="344.5" y="386.8" font-size="10.5" font-weight="bold" text-anchor="middle"  stroke="#000" stroke-width="0.3">T-shNT</text>
<text x="402.8" y="387.3" font-size="10.5" font-weight="bold" text-anchor="middle"  stroke="#000" stroke-width="0.3">T-shFC</text>
<text x="440.7" y="316.7" font-size="10.5" font-weight="bold" text-anchor="start"  stroke="#000" stroke-width="0.3">Phospho-p65</text>
<text x="440.7" y="331.09999999999997" font-size="10.5" font-weight="bold" text-anchor="start"  stroke="#000" stroke-width="0.3">Total p65</text>
<text x="440.7" y="344.09999999999997" font-size="10.5" font-weight="bold" text-anchor="start"  stroke="#000" stroke-width="0.3">Phospho-c-Jun</text>
<text x="440.7" y="357.59999999999997" font-size="10.5" font-weight="bold" text-anchor="start"  stroke="#000" stroke-width="0.3">Total c-Jun</text>
<text x="440.7" y="370.0" font-size="10.5" font-weight="bold" text-anchor="start"  stroke="#000" stroke-width="0.3">Histone H3</text>
</g>
</svg>
</body></html>
